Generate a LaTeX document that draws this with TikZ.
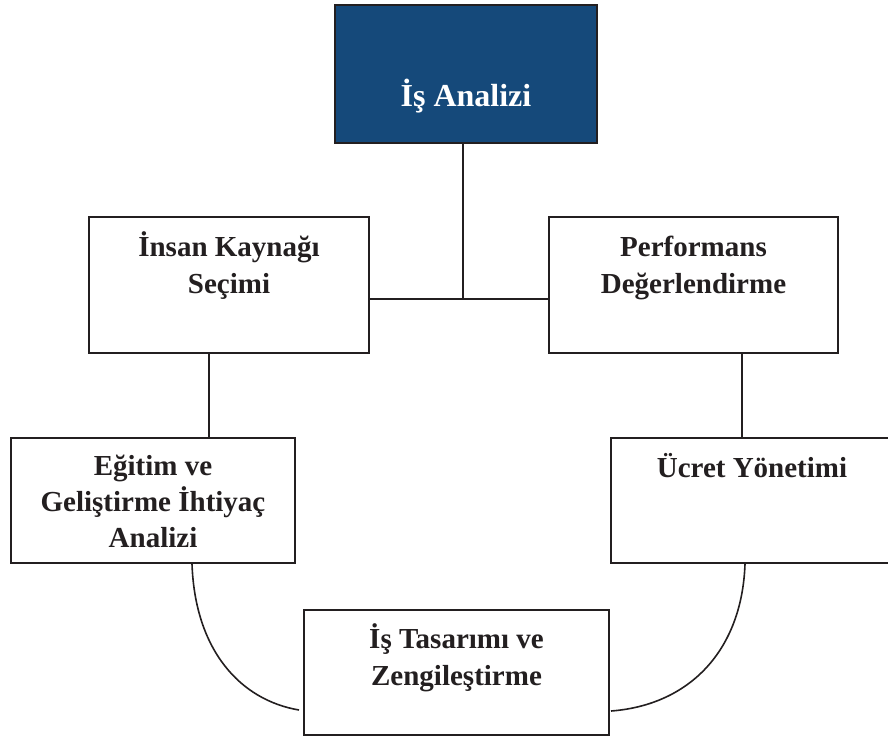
\documentclass[tikz,border=0pt]{standalone}
\usepackage{fontspec}
\setmainfont{Liberation Serif}
\definecolor{boxblue}{RGB}{21,73,122}
\definecolor{ink}{RGB}{35,31,32}
\begin{document}
\begin{tikzpicture}[x=1pt,y=-1pt,
  box/.style={draw=ink,line width=1.8pt,rectangle,inner sep=0pt},
  lbl/.style={font=\bfseries\fontsize{29}{37}\selectfont,align=center,anchor=base,text=ink,inner sep=0pt},
  conn/.style={draw=ink,line width=1.6pt}]
\useasboundingbox (0,0) rectangle (888,737);
% boxes
\node[box,fill=boxblue,minimum width=262pt,minimum height=138pt] (ia) at (466,74) {};
\node[box,fill=white,minimum width=280pt,minimum height=136pt] (insan) at (229,285) {};
\node[box,fill=white,minimum width=289pt,minimum height=136pt] (perf) at (693.5,285) {};
\node[box,fill=white,minimum width=284pt,minimum height=125pt] (egit) at (153,500.5) {};
\node[box,fill=white,minimum width=282pt,minimum height=125pt] (ucret) at (752,500.5) {};
\node[box,fill=white,minimum width=305pt,minimum height=125pt] (tas) at (456.5,672.5) {};
% texts (base anchor = baseline of last line)
\node[lbl,text=white,font=\bfseries\fontsize{32}{38}\selectfont] (tia) at (466,106) {İş Analizi};
\node[lbl] (tinsan) at (229,293) {İnsan Kaynağı\\Seçimi};
\node[lbl] (tperf) at (693.5,293) {Performans\\Değerlendirme};
\node[lbl,font=\bfseries\fontsize{29}{36}\selectfont] (tegit) at (153,547) {Eğitim ve\\Geliştirme İhtiyaç\\Analizi};
\node[lbl] (tucret) at (752,477) {Ücret Yönetimi};
\node[lbl] (ttas) at (456.5,685) {İş Tasarımı ve\\Zengileştirme};
% connectors
\coordinate (j) at (463,299);
\draw[conn] ([xshift=-3pt]ia.south) -- (j);
\draw[conn] (j -| insan.east) -- (j -| perf.west);
\draw[conn] ([xshift=-20pt]insan.south) -- ([xshift=-20pt]insan.south |- egit.north);
\draw[conn] ([xshift=48.5pt]perf.south) -- ([xshift=48.5pt]perf.south |- ucret.north);
\coordinate (lend) at (299,710);
\coordinate (rend) at (611,711);
\draw[conn] ([xshift=39pt]egit.south) .. controls (195,650) and (240,700) .. (lend);
\draw[conn] ([xshift=-7pt]ucret.south) .. controls (742,650) and (690,705) .. (rend);
\end{tikzpicture}
\end{document}
